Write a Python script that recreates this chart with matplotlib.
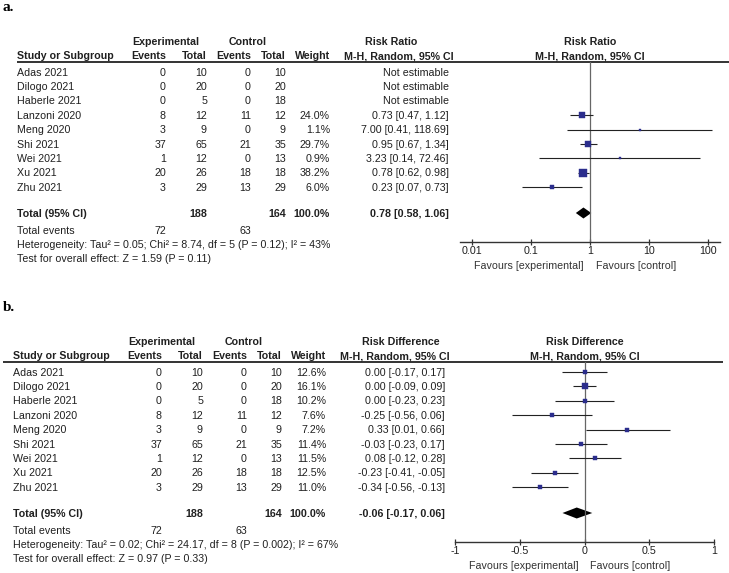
import numpy as np
import matplotlib
matplotlib.use('Agg')
import matplotlib.pyplot as plt

plt.rcParams['font.family'] = ['Liberation Sans', 'DejaVu Sans']
plt.rcParams['axes.unicode_minus'] = False

# data
studies = ['Adas 2021', 'Dilogo 2021', 'Haberle 2021', 'Lanzoni 2020', 'Meng 2020',
           'Shi 2021', 'Wei 2021', 'Xu 2021', 'Zhu 2021']
exp_events = [0, 0, 0, 8, 3, 37, 1, 20, 3]
exp_total = [10, 20, 5, 12, 9, 65, 12, 26, 29]
ctl_events = [0, 0, 0, 11, 0, 21, 0, 18, 13]
ctl_total = [10, 20, 18, 12, 9, 35, 13, 18, 29]

rr_weight = [np.nan, np.nan, np.nan, 24.0, 1.1, 29.7, 0.9, 38.2, 6.0]
rr_est = [np.nan, np.nan, np.nan, 0.73, 7.00, 0.95, 3.23, 0.78, 0.23]
rr_lo = [np.nan, np.nan, np.nan, 0.47, 0.41, 0.67, 0.14, 0.62, 0.07]
rr_hi = [np.nan, np.nan, np.nan, 1.12, 118.69, 1.34, 72.46, 0.98, 0.73]
rr_total = [0.78, 0.58, 1.06]
rr_stats = ['Heterogeneity: Tau² = 0.05; Chi² = 8.74, df = 5 (P = 0.12); I² = 43%',
            'Test for overall effect: Z = 1.59 (P = 0.11)']
rr_ticks = [0.01, 0.1, 1, 10, 100]
rr_ticklabels = ['0.01', '0.1', '1', '10', '100']

rd_weight = [12.6, 16.1, 10.2, 7.6, 7.2, 11.4, 11.5, 12.5, 11.0]
rd_est = [0.00, 0.00, 0.00, -0.25, 0.33, -0.03, 0.08, -0.23, -0.34]
rd_lo = [-0.17, -0.09, -0.23, -0.56, 0.01, -0.23, -0.12, -0.41, -0.56]
rd_hi = [0.17, 0.09, 0.23, 0.06, 0.66, 0.17, 0.28, -0.05, -0.13]
rd_total = [-0.06, -0.17, 0.06]
rd_stats = ['Heterogeneity: Tau² = 0.02; Chi² = 24.17, df = 8 (P = 0.002); I² = 67%',
            'Test for overall effect: Z = 0.97 (P = 0.33)']
rd_ticks = [-1, -0.5, 0, 0.5, 1]
rd_ticklabels = ['-1', '-0.5', '0', '0.5', '1']

W, H = 729, 573
FS = 7.7
TXT = '#202020'
SQ = '#2b2d8c'

fig = plt.figure(figsize=(W / 100, H / 100), dpi=100)
ov = fig.add_axes([0, 0, 1, 1])
ov.set_xlim(0, W)
ov.set_ylim(H, 0)
ov.axis('off')


def txt(x, y, s, ha='left', bold=False, color=TXT):
    ov.text(x, y + 3.7, s, ha=ha, va='baseline', fontsize=FS,
            fontweight='bold' if bold else 'normal', color=color)


def panel(label, dy, x0, line_x, name, est, lo, hi, weight, total, stats,
          ax_x, log, xlim, ticks, ticklabels, name_x):
    ov.text(3, 11 + dy, label, fontsize=11, fontweight='bold',
            family='Liberation Serif', va='baseline', color='black')
    # header
    h1, h2 = 41.5 + dy, 55.5 + dy
    txt(x0 + 148.5, h1, 'Experimental', ha='center', bold=True)
    txt(x0 + 230.5, h1, 'Control', ha='center', bold=True)
    txt(name_x, h1, name, ha='center', bold=True)
    txt(x0, h2, 'Study or Subgroup', bold=True)
    for off, s in [(149, 'Events'), (190, 'Total'), (234, 'Events'), (269, 'Total'),
                   (313, 'Weight'), (437, 'M-H, Random, 95% CI')]:
        txt(x0 + off, h2, s, ha='right', bold=True)
    ov.plot(line_x, [62 + dy, 62 + dy], color='#333333', lw=1.4, solid_capstyle='butt')

    # rows
    rows = [72 + dy + i * 14.4 for i in range(len(studies))]
    for i, y in enumerate(rows):
        txt(x0, y, studies[i])
        txt(x0 + 149, y, str(exp_events[i]), ha='right')
        txt(x0 + 190, y, str(exp_total[i]), ha='right')
        txt(x0 + 234, y, str(ctl_events[i]), ha='right')
        txt(x0 + 269, y, str(ctl_total[i]), ha='right')
        if np.isnan(est[i]):
            txt(x0 + 432, y, 'Not estimable', ha='right')
        else:
            txt(x0 + 313, y, f'{weight[i]:.1f}%', ha='right')
            txt(x0 + 432, y, f'{est[i]:.2f} [{lo[i]:.2f}, {hi[i]:.2f}]', ha='right')

    ytot = 213 + dy
    txt(x0, ytot, 'Total (95% CI)', bold=True)
    txt(x0 + 190, ytot, str(sum(exp_total)), ha='right', bold=True)
    txt(x0 + 269, ytot, str(sum(ctl_total)), ha='right', bold=True)
    txt(x0 + 313, ytot, '100.0%', ha='right', bold=True)
    txt(x0 + 432, ytot, f'{total[0]:.2f} [{total[1]:.2f}, {total[2]:.2f}]', ha='right', bold=True)
    txt(x0, 230 + dy, 'Total events')
    txt(x0 + 149, 230 + dy, str(sum(exp_events)), ha='right')
    txt(x0 + 234, 230 + dy, str(sum(ctl_events)), ha='right')
    txt(x0, 244 + dy, stats[0])
    txt(x0, 258 + dy, stats[1])

    # forest plot
    ytop, ybot = 62 + dy, 242 + dy
    ax = fig.add_axes([ax_x[0] / W, 1 - ybot / H, (ax_x[1] - ax_x[0]) / W, (ybot - ytop) / H])
    ax.patch.set_alpha(0)
    if log:
        ax.set_xscale('log')
    ax.set_xlim(*xlim)
    ax.set_ylim(ybot, ytop)
    for s in ['top', 'left', 'right']:
        ax.spines[s].set_visible(False)
    ax.spines['bottom'].set_color('#333333')
    ax.spines['bottom'].set_linewidth(1.0)
    ax.set_yticks([])
    ax.minorticks_off()
    ax.set_xticks(ticks, labels=ticklabels)
    ax.tick_params(axis='x', direction='inout', length=5, width=0.9, color='#333333',
                   labelsize=FS, labelcolor=TXT, pad=0.5)
    ref = 1 if log else 0
    ax.axvline(ref, color='#666666', lw=0.9)
    for i, y in enumerate(rows):
        if np.isnan(est[i]):
            continue
        ax.hlines(y, lo[i], hi[i], color='#222222', lw=0.8)
        side = max(1.5, 1.28 * np.sqrt(weight[i]) * 0.72)
        ax.plot(est[i], y, 's', ms=side, color=SQ, mec=SQ, mew=0.3)
    ax.fill([total[1], total[0], total[2], total[0]],
            [ytot, ytot - 5.5, ytot, ytot + 5.5], color='black', lw=0)

    refx = ax.transData.transform((ref, 0))[0]
    txt(refx, h1, name, ha='center', bold=True)
    txt(refx, h2, 'M-H, Random, 95% CI', ha='center', bold=True)
    txt(refx - 6, 265 + dy, 'Favours [experimental]', ha='right', color='#333333')
    txt(refx + 6, 265 + dy, 'Favours [control]', color='#333333')


panel('a.', 0, 17, [17, 729], 'Risk Ratio', rr_est, rr_lo, rr_hi, rr_weight, rr_total,
      rr_stats, (460, 719.6), True, (10 ** -2.2, 10 ** 2.2), rr_ticks, rr_ticklabels, 391)
panel('b.', 300, 13, [3, 723], 'Risk Difference', rd_est, rd_lo, rd_hi, rd_weight, rd_total,
      rd_stats, (455, 714), False, (-1, 1), rd_ticks, rd_ticklabels, 401)

fig.savefig('out.png', dpi=100)
